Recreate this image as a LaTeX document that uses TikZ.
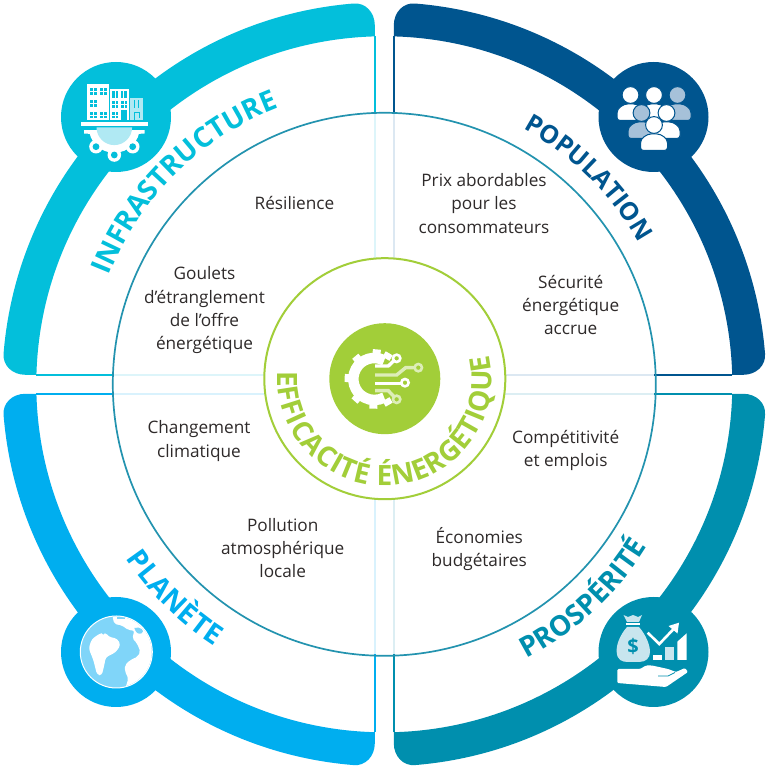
\documentclass[tikz,border=0pt]{standalone}
\usepackage{fontspec}
\setmainfont{Open Sans}
\usetikzlibrary{decorations.text}
\definecolor{cinfra}{HTML}{03BFDB}
\definecolor{cpop}{HTML}{00558F}
\definecolor{cplan}{HTML}{00AEEF}
\definecolor{cpros}{HTML}{008FAE}
\definecolor{pinfra}{HTML}{DDF5FA}
\definecolor{ppop}{HTML}{DCE8F2}
\definecolor{pplan}{HTML}{D9F2FD}
\definecolor{ppros}{HTML}{DCEEF3}
\definecolor{cteal}{HTML}{2393AF}
\definecolor{cgreen}{HTML}{A2CE39}
\definecolor{cgreenp}{HTML}{DDEDB8}
\definecolor{ctext}{HTML}{2E2A2A}
\definecolor{paleinfra}{HTML}{B0E9F3}
\definecolor{palepop}{HTML}{A6C1D9}
\definecolor{paleplan}{HTML}{80D5F9}
\definecolor{palepros}{HTML}{C8E5EE}
\tikzset{
  body/.style={font=\fontsize{17.2}{23.2}\selectfont,text=ctext,align=center,inner sep=0pt},
  px/.style={shift={(0,768)},yscale=-1},
}
\newcommand\quadrant[4]{%
  \begin{scope}[shift={(384.3,383.7)},xscale=#1,yscale=#2]
    \draw[#4,line width=1.6] (9.5,270) -- (9.5,90);
    \draw[#4,line width=1.6] (270,9.5) -- (90,9.5);
    \draw[#3,line width=1.6] (9.5,348) -- (9.5,270);
    \draw[#3,line width=1.6] (348,9.5) -- (270,9.5);
    \fill[#3] (9.5,347.9) arc[start angle=88.44,end angle=1.56,radius=348]
      -- (359,9.5) .. controls (372,9.5) and (382,19) .. (380.7,31)
      arc[start angle=4.65,end angle=85.35,radius=382]
      .. controls (19,382) and (9.5,372) .. (9.5,359) -- cycle;
  \end{scope}}
\newcommand\person[4]{% x y fill outline
  \begin{scope}[shift={(#1,#2)}]
    \draw[fill=#3,draw=#4,line width=1,rounded corners=3] (-13.5,25.5) -- (-13.5,21)
      .. controls (-13.5,13) and (-7,9) .. (0,9) .. controls (7,9) and (13.5,13) .. (13.5,21)
      -- (13.5,25.5) -- cycle;
    \draw[fill=#3,draw=#4,line width=1] (0,0) circle[radius=8.4];
  \end{scope}}
\newcommand\windowx[4]{% cross pane
  \fill[cinfra] (#1,#2) rectangle (#3,#4);
  \draw[white,line width=.6] ({(#1+#3)/2},#2) -- ({(#1+#3)/2},#4) ({#1},{(#2+#4)/2}) -- ({#3},{(#2+#4)/2});}
\newcommand\windowv[4]{% bars pane
  \fill[cinfra] (#1,#2) rectangle (#3,#4);
  \draw[white,line width=.9] ({(#1+#3)/2},#2) -- ({(#1+#3)/2},#4);}
\begin{document}
\begin{tikzpicture}[x=1pt,y=1pt]
\useasboundingbox (0,0) rectangle (768,768);
\fill[white] (0,0) rectangle (768,768);
\quadrant{-1}{1}{cinfra}{pinfra}
\quadrant{1}{1}{cpop}{ppop}
\quadrant{-1}{-1}{cplan}{pplan}
\quadrant{1}{-1}{cpros}{ppros}
\draw[cteal,line width=1.7] (384.3,383.7) circle[radius=271.5];
\draw[cgreen,line width=2,fill=white] (384.8,389.3) circle[radius=120.5];
\fill[cgreen] (384.8,389.3) circle[radius=55.5];

% curved titles
\path[shift={(384.3,383.7)},decorate,decoration={text along path,text align=fit to path,
  text={|\fontsize{28}{28}\selectfont\bfseries\color{cinfra}|INFRASTRUCTURE}}]
  (158.5:296pt) arc[start angle=158.5,end angle=112,radius=296pt];
\path[shift={(384.3,383.7)},decorate,decoration={text along path,text align=fit to path,
  text={|\fontsize{25}{25}\selectfont\bfseries\color{cpop}|POPULATION}}]
  (61.5:291pt) arc[start angle=61.5,end angle=30,radius=291pt];
\path[shift={(384.3,383.7)},decorate,decoration={text along path,text align=fit to path,
  text={|\fontsize{28}{28}\selectfont\bfseries\color{cplan}|PLANÈTE}}]
  (214:312pt) arc[start angle=214,end angle=237,radius=312pt];
\path[shift={(384.3,383.7)},decorate,decoration={text along path,text align=fit to path,
  text={|\fontsize{28}{28}\selectfont\bfseries\color{cpros}|PROSPÉRITÉ}}]
  (297.4:309pt) arc[start angle=297.4,end angle=327,radius=309pt];
\path[shift={(384.8,389.3)},decorate,decoration={text along path,text align=fit to path,
  text={|\fontsize{28}{28}\selectfont\bfseries\color{cgreen}|EFFICACITÉ ÉNERGÉTIQUE}}]
  (176:107pt) arc[start angle=176,end angle=373,radius=107pt];

\begin{scope}[px]
\node[body] (resilience) at (294.5,203) {Résilience};
\node[body] (goulets) at (204.5,310.2) {Goulets\\d’étranglement\\de l’offre\\énergétique};
\node[body] (prix) at (484,203.5) {Prix abordables\\pour les\\consommateurs};
\node[body] (securite) at (570.7,305) {Sécurité\\énergétique\\accrue};
\node[body] (changement) at (199,441) {Changement\\climatique};
\node[body] (pollution) at (282.7,548) {Pollution\\atmosphérique\\locale};
\node[body] (competitivite) at (565.7,450.5) {Compétitivité\\et emplois};
\node[body] (economies) at (479.3,549) {Économies\\budgétaires};

% ---------- infrastructure icon
\fill[cinfra] (116,117) circle[radius=55];
\fill[white] (87.3,84.3) rectangle (109.3,120);
\fill[white] (110.3,89) rectangle (128.5,120);
\fill[paleinfra] (130,98) rectangle (142.5,120);
\windowx{89.5}{88}{96.7}{95}\windowx{99.5}{88}{107}{95}
\windowx{89.5}{100}{96.7}{107.3}
\windowx{89.5}{111.7}{96.7}{118.3}\windowx{99.5}{111.7}{107}{118.3}
\windowv{112}{91}{118.3}{98}\windowv{120.7}{91}{127}{98}
\windowx{112}{101}{118.3}{108}\windowx{120.7}{101}{127}{108}
\windowx{112}{111.7}{118.3}{118.3}
\fill[cinfra] (121,110) rectangle (127,120);
\draw[cinfra,line width=.8] (134,100) -- (134,108) (138.5,100) -- (138.5,108);
\draw[cinfra,line width=.7] (134,120) -- (134,112) -- (139,112) -- (139,118);
\fill[white] (80.5,122) rectangle (147.5,126);
\fill[white] (88.8,127.3) arc[start angle=180,end angle=0,radius=25.5] -- cycle;
\fill[white] (84,130) -- (144.5,130) -- (144.5,133.5) -- (137,134) -- (92,134) -- (84,133.5) -- cycle;
\foreach \a/\b in {96/146.7,114.3/155,132.7/146.7}{
  \fill[white] (\a,\b) circle[radius=6.8];
  \fill[cinfra] (\a,\b) circle[radius=3.4];}
\fill[cinfra] (80,126) rectangle (148,130);
\fill[paleinfra] (96.5,127.3) -- (132.1,127.3) arc[start angle=0,end angle=180,radius=17.8] -- cycle;

% ---------- population icon
\fill[cpop] (653.5,117) circle[radius=55];
\person{630.5}{95}{white}{cpop}
\person{677.5}{95}{palepop}{cpop}
\person{654}{95}{white}{cpop}
\person{641.5}{113}{palepop}{cpop}
\person{666.5}{113}{white}{cpop}
\person{654}{125}{white}{cpop}

% ---------- planet icon
\fill[cplan] (116,652) circle[radius=55];
\draw[white,line width=1,fill=paleplan] (116.3,652) circle[radius=36];
\begin{scope}[shift={(75,610)},x=.3333pt,y=.3333pt]
  \clip (124,126) circle[radius=106];
  \fill[white,rounded corners=2] (112,18) -- (118,42) -- (140,46) -- (160,60) -- (178,62)
    -- (172,85) -- (186,100) -- (196,125) -- (188,140) -- (166,150) -- (150,165) -- (150,185)
    -- (160,205) -- (150,240) -- (250,240) -- (250,20) -- cycle;
  \fill[paleplan] (178,54) .. controls (195,48) and (212,62) .. (200,70) .. controls (190,74) and (182,68) .. cycle;
  \fill[paleplan] (205,20) -- (230,60) -- (250,60) -- (250,20) -- cycle;
  \fill[white,rounded corners=3] (75,70) -- (50,88) -- (41,115) -- (55,150) -- (66,194)
    -- (80,197) -- (88,165) -- (92,142) -- (122,127) -- (137,105) -- (127,86) -- (100,80) -- (92,68) -- cycle;
  \fill[paleplan] (85,70) circle[radius=4];
  \fill[paleplan] (126,20) rectangle (150,27);
\end{scope}

% ---------- prosperity icon
\fill[cpros] (653.5,652) circle[radius=55];
\fill[palepros] (627,627) .. controls (620,635) and (616,645) .. (616.7,652)
  .. controls (617,660) and (622,662) .. (628,662) -- (639,662)
  .. controls (646,662) and (650,658) .. (650,652)
  .. controls (650,645) and (646,635) .. (639,627) -- cycle;
\fill[palepros] (623.5,615) -- (628,617) -- (633,615) -- (638,617) -- (642,615) -- (639,622) -- (627,622) -- cycle;
\fill[white] (626,623) rectangle (639.5,625.2);
\node[inner sep=0pt,text=cpros,font=\fontsize{20}{20}\selectfont\bfseries] (dollar) at (633,646) {\$};
\fill[white] (652.7,655) rectangle (661.7,660);
\fill[palepros] (665,646.7) rectangle (674,660);
\fill[white] (677.3,660) -- (677.3,641.7) -- (686.7,633.3) -- (686.7,660) -- cycle;
\draw[white,line width=2.6] (647.7,632.7) -- (659.3,644) -- (676,626.5);
\fill[white] (668.5,626) -- (679,622.7) -- (677.5,633.5) -- cycle;
\fill[white,rounded corners=1.2] (617.3,669) -- (640,669) -- (646,665.5) -- (652,665.5)
  -- (668,669) -- (676,672) -- (685,668) -- (688,672) -- (666,687) -- (617.3,683) -- cycle;
\draw[cpros,line width=.8] (658,676) -- (668,676) -- (675,672.5);

% ---------- efficiency icon
\begin{scope}[shift={(335,340)},x=.3333pt,y=.3333pt]
  \draw[white,line width=10.5pt] ({118+63*cos(62)},{117-63*sin(62)}) arc[start angle=-62,end angle=-298,radius=63];
  \foreach \t in {-60,-85,-130,-178,132,92,60}{
    \draw[white,line width=8pt] ({118+70*cos(\t)},{117+70*sin(\t)}) -- ({118+89*cos(\t)},{117+89*sin(\t)});}
  \draw[white,line width=3.4] (120,78) -- (160,78) -- (177,62);
  \draw[white,line width=2.6,fill=cgreen] (185,55) circle[radius=11];
  \draw[cgreenp,line width=3.4] (120,105) -- (185,105) -- (212,83) -- (240,83);
  \draw[cgreenp,line width=2.6,fill=cgreen] (250,83) circle[radius=11];
  \draw[white,line width=3.4] (120,130) -- (198,130);
  \draw[white,line width=2.6,fill=cgreen] (210,128) circle[radius=11];
  \draw[cgreenp,line width=3.4] (120,152) -- (160,152) -- (177,170);
  \draw[cgreenp,line width=2.6,fill=cgreen] (185,178) circle[radius=11];
\end{scope}
\end{scope}
\end{tikzpicture}
\end{document}
